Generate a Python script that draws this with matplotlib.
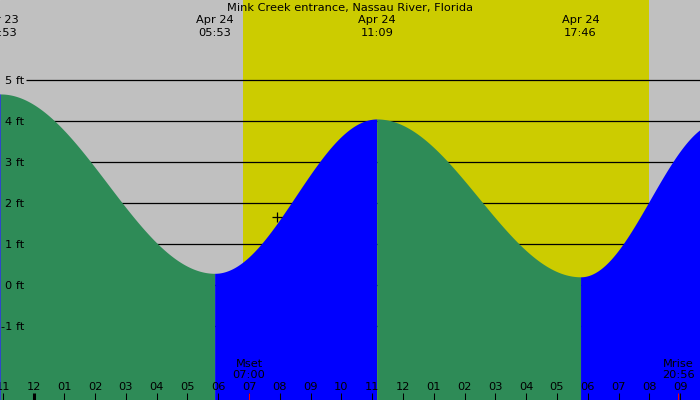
import numpy as np
import matplotlib
matplotlib.use("Agg")
import matplotlib.pyplot as plt

# ---- data ----
title = "Mink Creek entrance, Nassau River, Florida"
# tide extremes, hours relative to Apr 24 00:00
tide_hours = [-7.2, -1.08, 5.883, 11.15, 17.767, 22.3]
tide_heights = [0.3, 4.66, 0.285, 4.05, 0.2, 3.98]
tide_dates = [None, "Apr 23", "Apr 24", "Apr 24", "Apr 24", None]
tide_times = [None, "23:53", "05:53", "11:09", "17:46", None]
sunrise_hour = 6.80
sunset_hour = 20.0
moon_events = ["Mset", "Mrise"]
moon_times = ["07:00", "20:56"]
moon_hours = [7.0, 20.933]
hour_ticks = list(range(-1, 22))
hour_labels = ["%02d" % ((h % 12) or 12) for h in hour_ticks]
ft_levels = [-1, 0, 1, 2, 3, 4, 5]
marker_hour = 7.91
marker_height = 1.66

# ---- layout ----
W, H = 700, 400
px_per_hour = 30.79
x0_hour = -33.5 / px_per_hour
x1_hour = x0_hour + W / px_per_hour
px_per_ft = 41.0
y_top = 285 / px_per_ft
y_bot = -(H - 285) / px_per_ft
FS = 8.2

GRAY = "#C0C0C0"
YELLOW = "#CCCC00"
GREEN = "#2E8B57"
BLUE = "#0000FF"

plt.rcParams['font.family'] = ['DejaVu Sans']
fig = plt.figure(figsize=(7, 4), dpi=100)
ax = fig.add_axes([0, 0, 1, 1])
ax.set_xlim(x0_hour, x1_hour)
ax.set_ylim(y_bot, y_top)
ax.set_axis_off()
ax.add_patch(plt.Rectangle((0, 0), 1, 1, transform=ax.transAxes, color=GRAY, zorder=0))
ax.axvspan(sunrise_hour, sunset_hour, color=YELLOW, zorder=0.5, lw=0)

def fy(py):
    return 1 - py / H

# grid lines
ytr = ax.get_yaxis_transform()
for lv in ft_levels:
    ax.hlines(lv, 26 / W, 1, transform=ytr, color="black", lw=0.9, zorder=1)

# tide curve
for i in range(len(tide_hours) - 1):
    ta, tb = tide_hours[i], tide_hours[i + 1]
    ha, hb = tide_heights[i], tide_heights[i + 1]
    t = np.linspace(ta, tb, 300)
    h = ha + (hb - ha) * (1 - np.cos(np.pi * (t - ta) / (tb - ta))) / 2
    col = BLUE if hb > ha else GREEN
    ax.fill_between(t, y_bot, h, color=col, lw=0, zorder=2)

# ft labels
for lv in ft_levels:
    ax.text(24 / W, lv - 4.2 / px_per_ft, "%d ft" % lv, transform=ytr, ha="right",
            va="baseline", fontsize=FS, zorder=5)

xtr = ax.get_xaxis_transform()
# title
ax.text(0.5, fy(11), title, transform=ax.transAxes, ha="center", va="baseline", fontsize=FS, zorder=5)
# extreme labels
for th, d, tm in zip(tide_hours, tide_dates, tide_times):
    if d is None:
        continue
    ax.text(th, fy(23), d, transform=xtr, ha="center", va="baseline", fontsize=FS, zorder=5)
    ax.text(th, fy(35.5), tm, transform=xtr, ha="center", va="baseline", fontsize=FS, zorder=5)

# hour ticks & labels
for hr, lab in zip(hour_ticks, hour_labels):
    lw = 2.2 if hr == 0 else 0.75
    ax.vlines(hr, 0, fy(392.5), transform=xtr, color="black", lw=lw, zorder=4)
    ax.text(hr, fy(390), lab, transform=xtr, ha="center", va="baseline", fontsize=FS, zorder=5)

# moon events
for ev, tm, hr in zip(moon_events, moon_times, moon_hours):
    ax.vlines(hr, 0, fy(392.5), transform=xtr, color="red", lw=0.75, zorder=4.5)
    ax.text(hr, fy(367), ev, transform=xtr, ha="center", va="baseline", fontsize=FS, zorder=5)
    ax.text(hr, fy(378.5), tm, transform=xtr, ha="center", va="baseline", fontsize=FS, zorder=5)

ax.plot([marker_hour], [marker_height], marker="+", color="black", ms=7, mew=0.9, zorder=6)

fig.savefig("out.png", dpi=100)
